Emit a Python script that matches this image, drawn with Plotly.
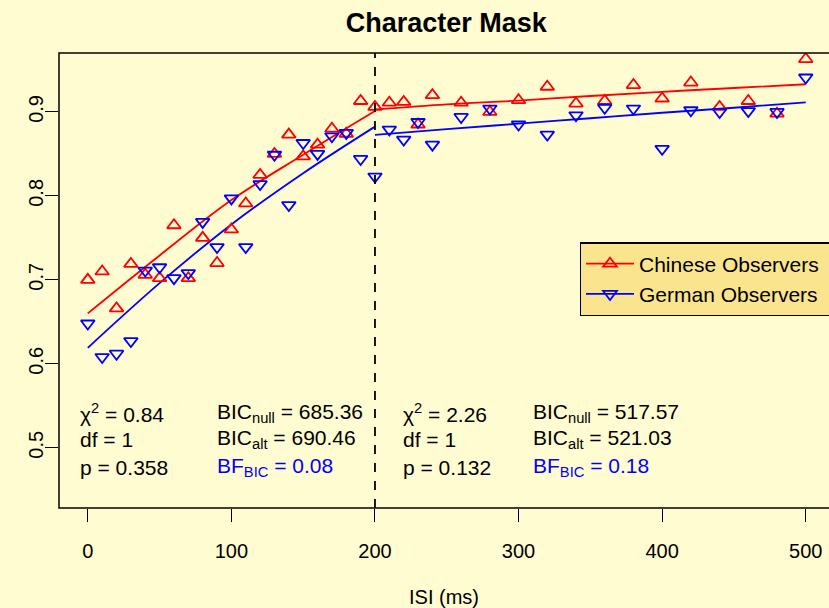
import plotly.graph_objects as go

# ---- data ----
isi = [0, 10, 20, 30, 40, 50, 60, 70, 80, 90, 100, 110, 120, 130, 140, 150, 160, 170, 180, 190,
       200, 210, 220, 230, 240, 260, 280, 300, 320, 340, 360, 380, 400, 420, 440, 460, 480, 500]
chinese = [0.700, 0.710, 0.666, 0.719, 0.706, 0.702, 0.765, 0.702, 0.750, 0.720, 0.760, 0.791, 0.825,
           0.850, 0.873, 0.847, 0.861, 0.880, 0.874, 0.913, 0.906, 0.911, 0.912, 0.885, 0.920, 0.911,
           0.900, 0.914, 0.930, 0.910, 0.913, 0.932, 0.916, 0.935, 0.906, 0.913, 0.898, 0.963]
german = [0.648, 0.608, 0.612, 0.627, 0.711, 0.715, 0.702, 0.708, 0.769, 0.739, 0.797, 0.739, 0.814,
          0.849, 0.789, 0.863, 0.850, 0.871, 0.875, 0.844, 0.823, 0.879, 0.867, 0.888, 0.861, 0.894,
          0.904, 0.885, 0.873, 0.896, 0.905, 0.904, 0.856, 0.902, 0.900, 0.901, 0.900, 0.941]

fit_x_left = [0, 50, 100, 150, 200]
fit_chinese_left = [0.660, 0.729, 0.795, 0.849, 0.901]
fit_german_left = [0.619, 0.696, 0.766, 0.827, 0.8825]
fit_x_right = [200, 250, 300, 350, 400, 450, 500]
fit_chinese_right = [0.903, 0.909, 0.9135, 0.919, 0.924, 0.9285, 0.933]
fit_german_right = [0.8726, 0.8795, 0.886, 0.8925, 0.899, 0.905, 0.9115]

breakpoint_isi = 200
x_ticks = [0, 100, 200, 300, 400, 500]
y_ticks = [0.5, 0.6, 0.7, 0.8, 0.9]

stats_left = ["χ<sup>2</sup> = 0.84", "df = 1", "p = 0.358"]
bic_left = ["BIC<sub>null</sub> = 685.36", "BIC<sub>alt</sub> = 690.46", "BF<sub>BIC</sub> = 0.08"]
stats_right = ["χ<sup>2</sup> = 2.26", "df = 1", "p = 0.132"]
bic_right = ["BIC<sub>null</sub> = 517.57", "BIC<sub>alt</sub> = 521.03", "BF<sub>BIC</sub> = 0.18"]

FONT = "Liberation Sans, Arial, Helvetica, sans-serif"
BG = "#FFFCD2"
RED = "#FF0000"
BLUE = "#0000FF"
PAD = "\u00a0\u00a0\u00a0"

fig = go.Figure()

for xs, ys, col in [(fit_x_left, fit_chinese_left, RED), (fit_x_right, fit_chinese_right, RED),
                    (fit_x_left, fit_german_left, BLUE), (fit_x_right, fit_german_right, BLUE)]:
    fig.add_trace(go.Scatter(x=xs, y=ys, mode="lines", line=dict(color=col, width=1.8, shape="spline"),
                             showlegend=False, hoverinfo="skip"))

fig.add_trace(go.Scatter(x=isi, y=chinese, mode="markers", showlegend=False,
                         marker=dict(symbol="triangle-up-open", size=12, color=RED, line=dict(width=1.8, color=RED))))
fig.add_trace(go.Scatter(x=isi, y=german, mode="markers", showlegend=False,
                         marker=dict(symbol="triangle-down-open", size=12, color=BLUE, line=dict(width=1.8, color=BLUE))))

# legend entries
fig.add_trace(go.Scatter(x=[None], y=[None], mode="lines+markers", name="Chinese Observers" + PAD,
                         line=dict(color=RED, width=1.8),
                         marker=dict(symbol="triangle-up-open", size=12, color=RED, line=dict(width=1.8, color=RED))))
fig.add_trace(go.Scatter(x=[None], y=[None], mode="lines+markers", name="German Observers" + PAD,
                         line=dict(color=BLUE, width=1.8),
                         marker=dict(symbol="triangle-down-open", size=12, color=BLUE, line=dict(width=1.8, color=BLUE))))

# plot box (left, top, bottom visible; right edge cut off)
fig.add_shape(type="rect", xref="paper", yref="paper", x0=0, x1=1.05, y0=0, y1=1,
              line=dict(color="black", width=1.5), layer="above")
fig.add_shape(type="line", xref="x", yref="paper", x0=breakpoint_isi, x1=breakpoint_isi, y0=0, y1=1,
              line=dict(color="black", width=1.8, dash="dash"))

ys_txt = [0.541, 0.510, 0.477]
anns = []
for xpos, texts, colors in [(-6.8, stats_left, ["black"] * 3), (88.6, bic_left, ["black", "black", BLUE]),
                            (218, stats_right, ["black"] * 3), (309, bic_right, ["black", "black", BLUE])]:
    for t, yv, c in zip(texts, ys_txt, colors):
        anns.append(dict(x=xpos, y=yv, xref="x", yref="y", text=t, showarrow=False,
                         xanchor="left", yanchor="middle", font=dict(family=FONT, size=21, color=c)))

fig.update_layout(
    width=829, height=608,
    margin=dict(l=59, r=0, t=53, b=100, autoexpand=False),
    paper_bgcolor=BG, plot_bgcolor=BG,
    font=dict(family=FONT, size=20, color="black"),
    title=dict(text="<b>Character Mask</b>", x=0.503, xref="paper", y=1 - 23 / 608, yref="container",
               xanchor="center", yanchor="middle", font=dict(family=FONT, size=27, color="black")),
    xaxis=dict(range=[-20.06, 516.2], tickvals=x_ticks, ticks="outside", ticklen=13, tickwidth=1,
               tickcolor="black", showgrid=False, zeroline=False, showline=False, automargin=False,
               ticklabelstandoff=12, tickfont=dict(size=20),
               title=dict(text="ISI (ms)", font=dict(size=20), standoff=28)),
    yaxis=dict(range=[0.4282, 0.9702], tickvals=y_ticks, tickformat=".1f", ticks="outside", ticklen=13,
               tickwidth=1, tickcolor="black", showgrid=False, zeroline=False, showline=False,
               automargin=False, tickangle=-90, tickfont=dict(size=20), ticklabelstandoff=-6),
    legend=dict(x=0.676, y=0.5846, xanchor="left", yanchor="top", bgcolor="#FBE48E",
                bordercolor="black", borderwidth=1.5, font=dict(family=FONT, size=21),
                itemwidth=48, tracegroupgap=0),
    annotations=anns,
)

fig.write_html("out.html", config={"displayModeBar": False},
               post_script="document.body.style.margin='0';document.body.style.padding='0';"
                           "document.body.style.background='" + BG + "';")
